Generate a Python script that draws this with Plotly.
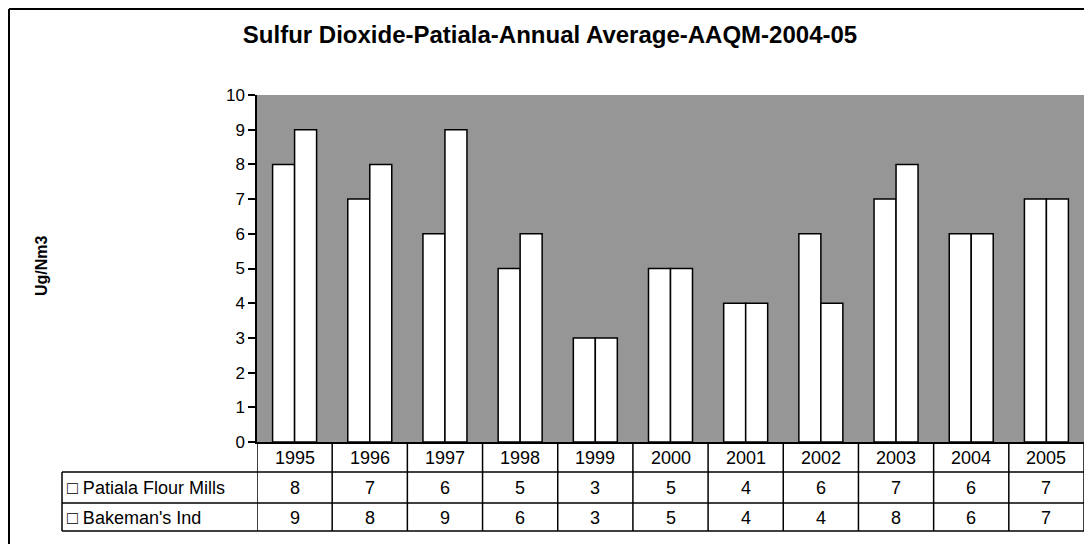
import plotly.graph_objects as go

years = ["1995", "1996", "1997", "1998", "1999", "2000",
         "2001", "2002", "2003", "2004", "2005"]
patiala_flour_mills = [8, 7, 6, 5, 3, 5, 4, 6, 7, 6, 7]
bakemans_ind = [9, 8, 9, 6, 3, 5, 4, 4, 8, 6, 7]
series_names = ["Patiala Flour Mills", "Bakeman's Ind"]
y_ticks = list(range(0, 11))

OFF = 8                      # page body margin
W, H = 1092 - OFF, 544 - OFF
PL, PR, PT, PB = 257, 1084, 95, 442   # plot area in reference pixels
FONT = "Liberation Sans, Arial, DejaVu Sans, sans-serif"


def py(p):
    # reference pixel row -> paper y
    return (PB - p) / (PB - PT)


def px(p):
    # reference pixel column -> paper x
    return (p - PL) / (PR - PL)


fig = go.Figure()
for name, vals in zip(series_names, [patiala_flour_mills, bakemans_ind]):
    fig.add_trace(go.Bar(
        x=years, y=vals, name=name,
        marker=dict(color="white", line=dict(color="black", width=1.5))))

row_y = [458, 488, 518]
ann = []
for i, yr in enumerate(years):
    ann.append(dict(x=i, y=py(row_y[0]), xref="x", yref="paper",
                    xanchor="center", yanchor="middle",
                    text=yr, showarrow=False, font=dict(size=18)))
for r, vals in enumerate([patiala_flour_mills, bakemans_ind]):
    for i, v in enumerate(vals):
        ann.append(dict(x=i, y=py(row_y[r + 1]), xref="x", yref="paper",
                        xanchor="center", yanchor="middle",
                        text=str(v), showarrow=False, font=dict(size=18)))
    ann.append(dict(x=px(65), y=py(row_y[r + 1]), xref="paper", yref="paper",
                    xanchor="left", yanchor="middle",
                    text="\u25a1 " + series_names[r],
                    showarrow=False, font=dict(size=18)))

ann.append(dict(x=px(41), y=py(265), xref="paper", yref="paper",
                xanchor="center", yanchor="middle",
                text="<b>Ug/Nm3</b>", textangle=-90, showarrow=False,
                font=dict(size=16)))

line = dict(color="black", width=1.5)
shapes = []
for i in range(len(years) + 1):
    shapes.append(dict(type="line", xref="x", yref="paper",
                       x0=i - 0.5, x1=i - 0.5, y0=py(442), y1=py(531), line=line))
for p in [472, 503, 531]:
    shapes.append(dict(type="line", xref="paper", yref="paper",
                       x0=px(62), x1=1, y0=py(p), y1=py(p), line=line))
shapes.append(dict(type="line", xref="paper", yref="paper",
                   x0=px(62), x1=px(62), y0=py(472), y1=py(531), line=line))
# outer chart frame (left and top edges, as far as the page shows them)
shapes.append(dict(type="line", xref="paper", yref="paper",
                   x0=px(9), x1=px(9), y0=py(9), y1=py(560),
                   line=dict(color="black", width=2)))
shapes.append(dict(type="line", xref="paper", yref="paper",
                   x0=px(9), x1=px(1100), y0=py(9), y1=py(9),
                   line=dict(color="black", width=2)))

fig.update_layout(
    width=W, height=H,
    margin=dict(l=PL - OFF, r=1092 - PR, t=PT - OFF, b=544 - PB),
    paper_bgcolor="white", plot_bgcolor="#969696",
    font=dict(family=FONT, color="black", size=17),
    title=dict(text="<b>Sulfur Dioxide-Patiala-Annual Average-AAQM-2004-05</b>",
               x=(550 - OFF) / W, xref="container", xanchor="center",
               y=1 - (35 - OFF) / H, yanchor="middle", font=dict(size=24)),
    barmode="group", bargap=0.415, bargroupgap=0,
    showlegend=False,
    annotations=ann, shapes=shapes,
    xaxis=dict(type="category", showticklabels=False, ticks="", showgrid=False,
               showline=True, linecolor="black", linewidth=1.5,
               range=[-0.5, len(years) - 0.5]),
    yaxis=dict(range=[0, 10], tickvals=y_ticks, showgrid=False,
               zeroline=False, showline=True, linecolor="black", linewidth=1.5,
               ticks="outside", ticklen=7, tickcolor="black", tickwidth=1.5,
               tickfont=dict(size=17)),
)

fig.write_html("out.html")
